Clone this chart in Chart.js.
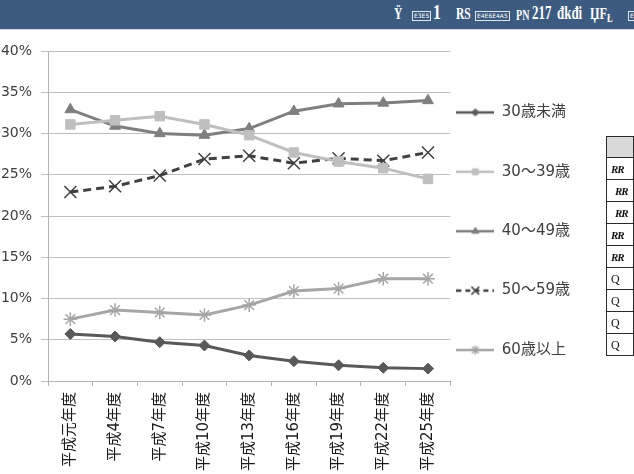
<!DOCTYPE html>
<html><head><meta charset="utf-8">
<script src="https://cdn.jsdelivr.net/npm/chart.js@4.4.1/dist/chart.umd.min.js"></script>
<style>
html,body{margin:0;padding:0;background:#fff;width:634px;height:474px;overflow:hidden;position:relative;font-family:"DejaVu Sans","Noto Sans CJK JP",sans-serif;}
#hdr{position:absolute;left:0;top:0;width:634px;height:29px;background:#3d5b81;border-bottom:1px solid #d5dbe3;overflow:hidden;}
#hdr span{position:absolute;color:#fff;font-weight:bold;font-family:"Liberation Serif",serif;font-size:16px;top:5px;line-height:18px;white-space:nowrap;transform:scaleX(0.72);transform-origin:0 0;}
#hdr span.bx{border:1px solid #dfe5ee;font-size:6px;font-weight:normal;line-height:8px;padding:0 1px;top:11px;font-family:"DejaVu Sans",sans-serif;transform:none;}
#wrap{position:absolute;left:0;top:30px;width:634px;height:444px;}
#tbl{position:absolute;left:606px;top:136px;border-collapse:collapse;}
#tbl td{border:1px solid #2a2a2a;width:60px;height:21px;padding:0 0 0 4px;font-family:"Liberation Serif",serif;font-size:12px;color:#111;line-height:14px;}
#tbl tr.h td{background:#d9d9d9;height:20px;}
#tbl td.r{font-weight:bold;font-style:italic;font-size:11px;letter-spacing:-1px;}
</style>
</head>
<body>
<div id="hdr">
  <span style="left:394px">Ÿ</span>
  <span class="bx" style="left:412px">E3E5</span>
  <span style="left:433px;font-size:22px;top:3px">1</span>
  <span style="left:456px">RS</span>
  <span class="bx" style="left:475px">E4E6E4A5</span>
  <span style="left:516px;font-size:14px;top:7px">PN</span>
  <span style="left:532px;font-size:18px;top:4px">217</span>
  <span style="left:557px;font-size:18px;top:4px">đkđi</span>
  <span style="left:590px;font-size:17px">ЏF</span>
  <span style="left:607px;font-size:12px;top:9px">Ł</span>
  <span class="bx" style="left:628px">E</span>
</div>
<div id="wrap"><canvas id="c" width="634" height="444"></canvas></div>
<table id="tbl">
  <tr class="h"><td></td></tr>
  <tr><td class="r">RR</td></tr>
  <tr><td class="r" style="padding-left:8px">RR</td></tr>
  <tr><td class="r" style="padding-left:8px">RR</td></tr>
  <tr><td class="r">RR</td></tr>
  <tr><td class="r">RR</td></tr>
  <tr><td>Q</td></tr>
  <tr><td>Q</td></tr>
  <tr><td>Q</td></tr>
  <tr><td>Q</td></tr>
</table>
<script>
const categories = ['平成元年度','平成4年度','平成7年度','平成10年度','平成13年度','平成16年度','平成19年度','平成22年度','平成25年度'];
const seriesNames = ['30歳未満','30〜39歳','40〜49歳','50〜59歳','60歳以上'];
const under30 = [5.7, 5.4, 4.7, 4.3, 3.1, 2.4, 1.9, 1.6, 1.5];
const age30s  = [31.1, 31.6, 32.1, 31.1, 29.8, 27.7, 26.6, 25.8, 24.5];
const age40s  = [32.9, 30.9, 30.0, 29.8, 30.6, 32.7, 33.6, 33.7, 34.0];
const age50s  = [22.9, 23.6, 24.9, 26.9, 27.3, 26.4, 27.0, 26.7, 27.7];
const over60  = [7.5, 8.6, 8.3, 8.0, 9.2, 10.9, 11.2, 12.4, 12.4];
const yTickValues = [0, 5, 10, 15, 20, 25, 30, 35, 40];

const FONT = '"DejaVu Sans", "Noto Sans CJK JP", sans-serif';
const styles = [
  {color:'#595959', point:'rectRot', r:5.5, bw:1, dash:[], lr:3.6},
  {color:'#bfbfbf', point:'rect', r:6.7, bw:1, dash:[], lr:4.2},
  {color:'#7f7f7f', point:'triangle', r:6.3, bw:1, dash:[], lr:4},
  {color:'#404040', point:'crossRot', r:8.5, bw:1.5, dash:[8,5], lr:5.5},
  {color:'#a6a6a6', point:'star', r:6.8, bw:1.5, dash:[], lr:4.5}
];
const seriesValues = [under30, age30s, age40s, age50s, over60];

function legendIcon(s){
  const cv = document.createElement('canvas');
  cv.width = 38; cv.height = 14;
  const ctx = cv.getContext('2d');
  ctx.strokeStyle = s.color; ctx.fillStyle = s.color;
  ctx.lineWidth = 2.5;
  ctx.setLineDash(s.dash.length ? [5,4] : []);
  ctx.beginPath(); ctx.moveTo(0,7); ctx.lineTo(38,7); ctx.stroke();
  ctx.setLineDash([]);
  ctx.lineWidth = s.bw;
  Chart.helpers.drawPoint(ctx, {pointStyle:s.point, radius:s.lr, borderWidth:s.bw, rotation:0}, 19, 7);
  return cv;
}

const datasets = seriesNames.map((name,i)=>{
  const s = styles[i];
  return {
    label: name, data: seriesValues[i],
    borderColor: s.color, backgroundColor: s.color,
    pointBorderColor: s.color, pointBackgroundColor: s.color,
    borderWidth: 3, borderDash: s.dash, tension: 0,
    pointStyle: s.point, pointRadius: s.r, pointBorderWidth: s.bw,
    pointHoverRadius: s.r
  };
});
const icons = styles.map(legendIcon);

new Chart(document.getElementById('c'), {
  type: 'line',
  data: {labels: categories, datasets},
  options: {
    responsive: false, animation: false, devicePixelRatio: 1,
    layout: {padding: {top: 21, left: 0, right: 54, bottom: 0}},
    plugins: {
      tooltip: {enabled: false},
      legend: {
        position: 'right', align: 'start',
        title: {display: true, text: '', padding: {top: 0, bottom: 33.5}},
        labels: {
          usePointStyle: true, pointStyleWidth: 38, padding: 6,
          font: {family: FONT, size: 15, lineHeight: 1.1867},
          color: '#404040',
          generateLabels: chart => chart.data.datasets.map((ds,i)=>({
            text: [ds.label, '', ''], pointStyle: icons[i],
            fillStyle: ds.borderColor, strokeStyle: ds.borderColor,
            lineWidth: 0, hidden: false, datasetIndex: i, fontColor: '#404040'
          }))
        }
      }
    },
    scales: {
      x: {
        offset: true,
        grid: {offset: true, drawOnChartArea: false, drawTicks: true, tickLength: 5, color: '#b3b3b3'},
        border: {color: '#b3b3b3'},
        ticks: {autoSkip: false, minRotation: 90, maxRotation: 90, padding: 6, color: '#1a1a1a', font: {family: FONT, size: 15}},
        afterFit: s => { s.height = 93; }
      },
      y: {
        min: 0, max: 40,
        afterBuildTicks: s => { s.ticks = yTickValues.map(v => ({value: v})); },
        ticks: {callback: v => v + '%', color: '#404040', padding: 9, font: {family: FONT, size: 14}},
        grid: {color: '#c0c0c0', tickLength: 7},
        border: {color: '#b3b3b3'},
        afterFit: s => { s.width = 48; }
      }
    }
  }
});
</script>
</body></html>
